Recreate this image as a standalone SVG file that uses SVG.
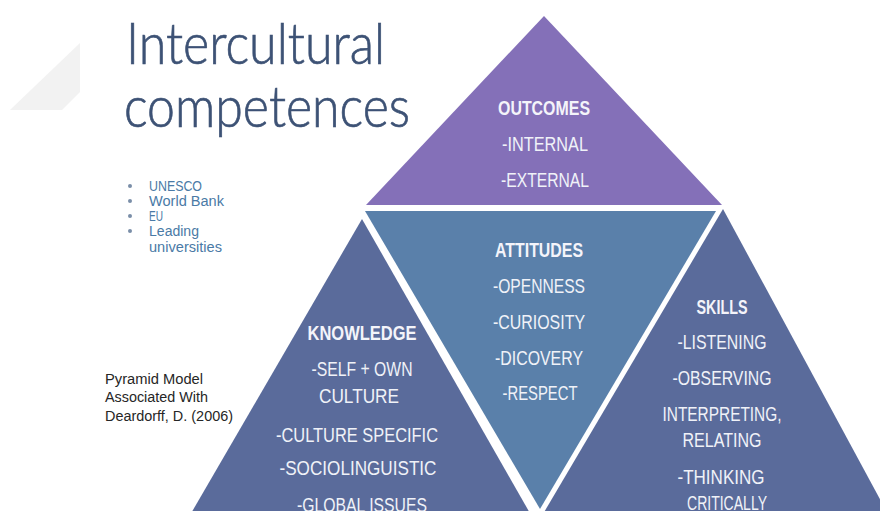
<svg xmlns="http://www.w3.org/2000/svg" width="880" height="511" viewBox="0 0 880 511">
  <style>
    .title { font-family: "Lato", "Liberation Sans", sans-serif; font-weight: 300; font-size: 57px; fill: #3d5275; stroke: #3d5275; stroke-width: 0.7px; }
    .bullet { font-family: "Liberation Sans", sans-serif; font-size: 14px; fill: #4a7aa6; }
    .dot { fill: #7a8ea8; }
    .cite { font-family: "Liberation Sans", sans-serif; font-size: 15.5px; fill: #262626; }
    .head { font-family: "Liberation Sans", sans-serif; font-weight: bold; font-size: 20px; fill: #f4f4fa; text-anchor: middle; }
    .item { font-family: "Liberation Sans", sans-serif; font-size: 20px; fill: #f0f2f8; text-anchor: middle; }
    .outcomes { fill: #8470b8; }
    .attitudes { fill: #5a80aa; }
    .side { fill: #5a6b9b; }
  </style>

  <rect width="880" height="511" fill="#ffffff"/>

  <!-- faint decorative slab in the corner -->
  <polygon points="10,110 80,43 80,92 62,110" fill="#f2f2f2"/>

  <!-- heading -->
  <g id="title">
    <text class="title" x="126" y="64" textLength="259" lengthAdjust="spacingAndGlyphs">Intercultural</text>
    <text class="title" x="124" y="127" textLength="286" lengthAdjust="spacingAndGlyphs">competences</text>
  </g>

  <!-- bodies listed on the left -->
  <g id="sources">
    <circle class="dot" cx="130" cy="186" r="2"/>
    <circle class="dot" cx="130" cy="201" r="2"/>
    <circle class="dot" cx="130" cy="216" r="2"/>
    <circle class="dot" cx="130" cy="231" r="2"/>
    <text class="bullet" x="149" y="191" textLength="53" lengthAdjust="spacingAndGlyphs">UNESCO</text>
    <text class="bullet" x="149" y="206" textLength="75" lengthAdjust="spacingAndGlyphs">World Bank</text>
    <text class="bullet" x="149" y="221" textLength="14" lengthAdjust="spacingAndGlyphs">EU</text>
    <text class="bullet" x="149" y="236" textLength="50" lengthAdjust="spacingAndGlyphs">Leading</text>
    <text class="bullet" x="149" y="252" textLength="73" lengthAdjust="spacingAndGlyphs">universities</text>
  </g>

  <g id="citation">
    <text class="cite" x="105" y="384" textLength="98" lengthAdjust="spacingAndGlyphs">Pyramid Model</text>
    <text class="cite" x="105" y="402" textLength="103" lengthAdjust="spacingAndGlyphs">Associated With</text>
    <text class="cite" x="105" y="421" textLength="128" lengthAdjust="spacingAndGlyphs">Deardorff, D. (2006)</text>
  </g>

  <!-- pyramid: outcomes on top, attitudes inverted in the middle -->
  <g id="outcomes">
    <polygon class="outcomes" points="544,16 722,205 366,205"/>
    <text class="head" x="544" y="115" textLength="92" lengthAdjust="spacingAndGlyphs">OUTCOMES</text>
    <text class="item" x="545" y="151" textLength="86" lengthAdjust="spacingAndGlyphs">-INTERNAL</text>
    <text class="item" x="545" y="187" textLength="88" lengthAdjust="spacingAndGlyphs">-EXTERNAL</text>
  </g>

  <g id="attitudes">
    <polygon class="attitudes" points="365,211 716,211 540,509"/>
    <text class="head" x="539" y="257" textLength="88" lengthAdjust="spacingAndGlyphs">ATTITUDES</text>
    <text class="item" x="539" y="293" textLength="92" lengthAdjust="spacingAndGlyphs">-OPENNESS</text>
    <text class="item" x="539" y="329" textLength="92" lengthAdjust="spacingAndGlyphs">-CURIOSITY</text>
    <text class="item" x="539" y="365" textLength="88" lengthAdjust="spacingAndGlyphs">-DICOVERY</text>
    <text class="item" x="540" y="400" textLength="75" lengthAdjust="spacingAndGlyphs">-RESPECT</text>
  </g>

  <g id="knowledge">
    <polygon class="side" points="362,219 186,522 535,522"/>
    <text class="head" x="362" y="340" textLength="109" lengthAdjust="spacingAndGlyphs">KNOWLEDGE</text>
    <text class="item" x="362" y="376" textLength="101" lengthAdjust="spacingAndGlyphs">-SELF + OWN</text>
    <text class="item" x="359" y="403" textLength="80" lengthAdjust="spacingAndGlyphs">CULTURE</text>
    <text class="item" x="357" y="442" textLength="162" lengthAdjust="spacingAndGlyphs">-CULTURE SPECIFIC</text>
    <text class="item" x="358" y="475" textLength="157" lengthAdjust="spacingAndGlyphs">-SOCIOLINGUISTIC</text>
    <text class="item" x="362" y="512" textLength="130" lengthAdjust="spacingAndGlyphs">-GLOBAL ISSUES</text>
  </g>

  <g id="skills">
    <polygon class="side" points="723,209 888,514 543,514"/>
    <text class="head" x="722" y="314" textLength="51" lengthAdjust="spacingAndGlyphs">SKILLS</text>
    <text class="item" x="722" y="349" textLength="89" lengthAdjust="spacingAndGlyphs">-LISTENING</text>
    <text class="item" x="722" y="385" textLength="99" lengthAdjust="spacingAndGlyphs">-OBSERVING</text>
    <text class="item" x="722" y="421" textLength="119" lengthAdjust="spacingAndGlyphs">INTERPRETING,</text>
    <text class="item" x="722" y="447" textLength="79" lengthAdjust="spacingAndGlyphs">RELATING</text>
    <text class="item" x="721" y="484" textLength="87" lengthAdjust="spacingAndGlyphs">-THINKING</text>
    <text class="item" x="727" y="510" textLength="80" lengthAdjust="spacingAndGlyphs">CRITICALLY</text>
  </g>

  <!-- no connectors in this figure -->
  <g id="connectors"/>
</svg>
